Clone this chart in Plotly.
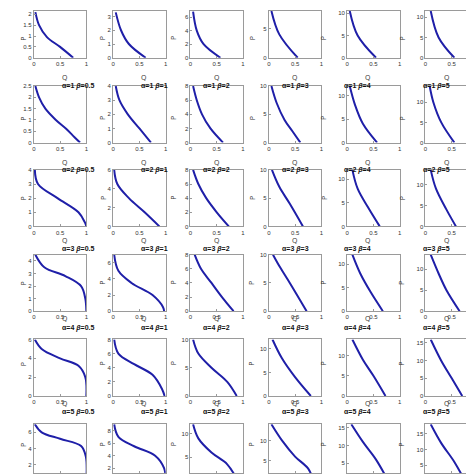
import plotly.graph_objects as go

alphas = [0, 1, 2, 3, 4, 5]
betas = ["0.5", "1", "2", "3", "4", "5"]

# y-axis max per panel (rows = alpha, cols = beta)
ymax = [
    [2.15, 3.4, 6.9, 8.0, 10.5, 11.5],
    [2.5, 4, 8, 10, 12, 14],
    [4, 6, 8, 10, 12, 13.5],
    [4.5, 7, 8, 10, 12, 13.5],
    [6, 8, 10, 12, 14, 16],
    [7, 9, 12, 14, 16, 18],
]
ydtick = [
    [0.5, 1, 2, 5, 5, 5],
    [0.5, 1, 2, 5, 5, 5],
    [1, 2, 2, 5, 5, 5],
    [1, 2, 2, 5, 5, 5],
    [2, 2, 5, 5, 5, 5],
    [2, 2, 5, 5, 5, 5],
]
# curves: Q values and P values per panel
curveQ = [
    [[0.03, 0.1, 0.25, 0.5, 0.75], [0.05, 0.15, 0.3, 0.62], [0.05, 0.12, 0.25, 0.57], [0.05, 0.2, 0.55], [0.05, 0.2, 0.55], [0.1, 0.25, 0.55]],
    [[0.03, 0.1, 0.22, 0.42, 0.62, 0.77, 0.88], [0.05, 0.12, 0.28, 0.5, 0.72], [0.05, 0.12, 0.22, 0.38, 0.62], [0.05, 0.15, 0.3, 0.45, 0.6], [0.05, 0.15, 0.3, 0.57], [0.08, 0.15, 0.3, 0.55]],
    [[0.02, 0.08, 0.45, 0.85, 0.97, 1.0], [0.02, 0.08, 0.3, 0.6, 0.88], [0.05, 0.15, 0.3, 0.5, 0.73], [0.06, 0.2, 0.4, 0.65], [0.1, 0.2, 0.4, 0.62], [0.1, 0.2, 0.4, 0.58]],
    [[0.03, 0.2, 0.6, 0.9, 0.98, 1.0], [0.02, 0.1, 0.35, 0.75, 0.95, 0.97], [0.08, 0.2, 0.4, 0.6, 0.82], [0.08, 0.2, 0.4, 0.72], [0.1, 0.25, 0.45, 0.68], [0.1, 0.25, 0.4, 0.65]],
    [[0.02, 0.15, 0.5, 0.85, 0.98, 1.0], [0.02, 0.1, 0.4, 0.75, 0.93, 0.98], [0.05, 0.15, 0.4, 0.7, 0.88], [0.07, 0.25, 0.5, 0.8], [0.1, 0.3, 0.5, 0.73], [0.1, 0.3, 0.5, 0.7]],
    [[0.02, 0.15, 0.5, 0.9, 0.99, 1.0], [0.02, 0.1, 0.4, 0.8, 0.97, 1.0], [0.05, 0.15, 0.4, 0.7, 0.9], [0.05, 0.25, 0.5, 0.75, 0.85], [0.08, 0.3, 0.55, 0.78], [0.1, 0.3, 0.55, 0.75]],
]
curveP = [
    [[2.1, 1.5, 0.95, 0.5, 0], [3.3, 2, 1, 0], [6.8, 4, 2, 0], [8, 4, 0], [10.5, 5, 0], [11.5, 5, 0]],
    [[2.5, 2.0, 1.5, 1.0, 0.6, 0.25, 0], [4, 3, 2, 1, 0], [8, 6, 4, 2, 0], [10, 7, 4, 2, 0], [12, 8, 4, 0], [14, 10, 5, 0]],
    [[4, 3, 2, 1, 0.3, 0], [6, 4.5, 3, 1.5, 0], [8, 6, 4, 2, 0], [10, 7, 4, 0], [12, 8, 4, 0], [13.5, 9, 4, 0]],
    [[4.5, 3.5, 2.8, 2, 1, 0], [7, 5, 3.5, 2, 0.5, 0], [8, 6, 4, 2, 0], [10, 8, 5, 0], [12, 8, 4, 0], [13.5, 9, 5, 0]],
    [[6, 5, 4, 3.2, 2, 0], [8, 6, 4.5, 3, 1, 0], [10, 7.5, 5, 2.5, 0], [12, 8, 4, 0], [14, 9, 5, 0], [16, 10, 5, 0]],
    [[7, 6, 5.2, 4.3, 3, 0], [9, 7, 5.5, 4, 2, 0], [12, 9, 6, 3.5, 0], [14, 10, 6, 3, 0], [16, 11, 6, 0], [18, 12, 6, 0]],
]

W = H = 474
col_left = [24, 104, 182, 261, 340, 419]
pw = 53
row_top = [-10, 77, 163, 250, 337, 424]
ph = 58

fig = go.Figure()
ann = []
k = 0
for r in range(6):
    for c in range(6):
        k += 1
        xa = "x" if k == 1 else f"x{k}"
        ya = "y" if k == 1 else f"y{k}"
        top, bot = row_top[r], row_top[r] + ph
        vt, vb = max(top, 0), min(bot, H)
        ym = ymax[r][c]
        lo = ym * (bot - vb) / ph
        hi = ym * (bot - vt) / ph
        if r == 0:
            lo, hi = 0, ym
        fig.add_trace(go.Scatter(x=curveQ[r][c], y=curveP[r][c], mode="lines",
                                 line=dict(color="#1f1fa8", width=2, shape="spline", smoothing=1),
                                 xaxis=xa, yaxis=ya, showlegend=False, hoverinfo="skip"))
        axd = dict(showgrid=False, zeroline=False, showline=True, mirror=True,
                   linecolor="#9a9a9a", linewidth=1, ticks="inside", ticklen=2,
                   tickcolor="#9a9a9a", tickfont=dict(size=6, color="#333", family="Liberation Sans"))
        fig.layout[f"xaxis{k if k>1 else ''}"] = dict(
            axd, domain=[col_left[c] / W, (col_left[c] + pw) / W], range=[0, 1],
            tickvals=[0, 0.5, 1], ticktext=["0", "0.5", "1"], anchor=ya, ticklabelstandoff=0)
        fig.layout[f"yaxis{k if k>1 else ''}"] = dict(
            axd, domain=[1 - vb / H, 1 - vt / H], range=[lo, hi], dtick=ydtick[r][c],
            tick0=0, anchor=xa, ticklabelstandoff=0)
        if bot + 13 < H:
            ann.append(dict(text="Q", x=(col_left[c] + pw / 2) / W, y=1 - (bot + 14) / H,
                            xref="paper", yref="paper", showarrow=False,
                            font=dict(size=7, color="#333")))
        ann.append(dict(text="P", x=(col_left[c] - 17) / W, y=1 - ((vt + vb) / 2) / H,
                        xref="paper", yref="paper", showarrow=False, textangle=-90,
                        font=dict(size=7, color="#333")))
        if r > 0:
            ann.append(dict(text=f"<b>α={alphas[r]} <i>β</i>={betas[c]}</b>",
                            x=(col_left[c] + pw / 2) / W, y=1 - (top - 6) / H,
                            xref="paper", yref="paper", showarrow=False,
                            font=dict(size=7, color="#111", family="Liberation Sans")))

fig.update_layout(width=W, height=H, margin=dict(l=0, r=0, t=0, b=0),
                  paper_bgcolor="white", plot_bgcolor="white", annotations=ann)
fig.write_html("out.html")
